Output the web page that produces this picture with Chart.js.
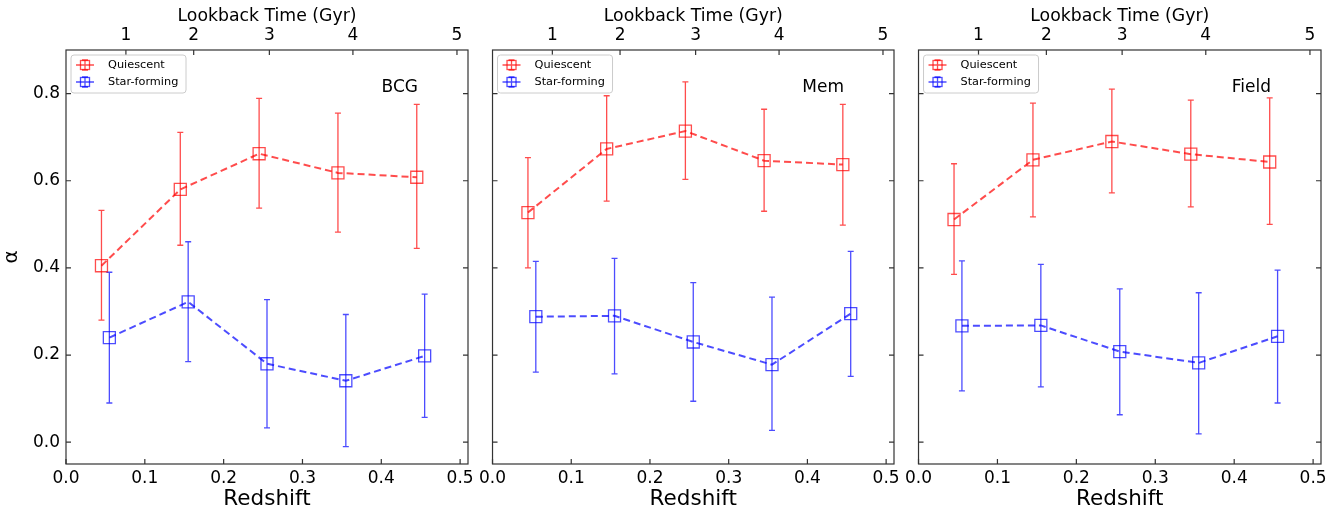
<!DOCTYPE html>
<html>
<head>
<meta charset="utf-8">
<script src="https://cdn.jsdelivr.net/npm/chart.js@4"></script>
<style>
  html, body { margin: 0; padding: 0; background: #fff; }
  #wrap { position: relative; width: 1338px; height: 512px; }
  .panel { position: absolute; top: 0; height: 512px; }
</style>
</head>
<body>
<div id="wrap">
  <div class="panel" style="left:0;width:478px"><canvas id="c0" width="478" height="512"></canvas></div>
  <div class="panel" style="left:475px;width:429px"><canvas id="c1" width="429" height="512"></canvas></div>
  <div class="panel" style="left:901px;width:437px"><canvas id="c2" width="437" height="512"></canvas></div>
</div>
<script>
// --- data ---
const panelNames = ["BCG", "Mem", "Field"];
const zQuiescent = [0.045, 0.145, 0.245, 0.345, 0.445];
const zStarForming = [0.055, 0.155, 0.255, 0.355, 0.455];

const redshiftTicks = [0.0, 0.1, 0.2, 0.3, 0.4, 0.5];
const alphaTicks = [0.0, 0.2, 0.4, 0.6, 0.8];
const lookbackGyr = [1, 2, 3, 4, 5];
const lookbackZ = [0.076, 0.162, 0.258, 0.364, 0.496];

// BCG
const bcgQ = [0.405, 0.580, 0.662, 0.618, 0.608];
const bcgQLo = [0.280, 0.452, 0.537, 0.482, 0.445];
const bcgQHi = [0.532, 0.711, 0.789, 0.755, 0.775];
const bcgSF = [0.240, 0.322, 0.180, 0.141, 0.198];
const bcgSFLo = [0.090, 0.185, 0.033, -0.010, 0.057];
const bcgSFHi = [0.390, 0.460, 0.327, 0.293, 0.340];

// Mem
const memQ = [0.527, 0.673, 0.714, 0.646, 0.637];
const memQLo = [0.400, 0.553, 0.603, 0.530, 0.498];
const memQHi = [0.653, 0.795, 0.827, 0.764, 0.775];
const memSF = [0.288, 0.290, 0.230, 0.178, 0.295];
const memSFLo = [0.161, 0.157, 0.094, 0.027, 0.151];
const memSFHi = [0.415, 0.422, 0.366, 0.333, 0.438];

// Field
const fieldQ = [0.511, 0.648, 0.690, 0.661, 0.643];
const fieldQLo = [0.385, 0.517, 0.572, 0.540, 0.500];
const fieldQHi = [0.639, 0.778, 0.810, 0.785, 0.790];
const fieldSF = [0.267, 0.268, 0.208, 0.182, 0.243];
const fieldSFLo = [0.118, 0.127, 0.063, 0.019, 0.090];
const fieldSFHi = [0.416, 0.408, 0.352, 0.343, 0.395];

const RED = "rgba(255,0,0,0.7)";
const BLUE = "rgba(0,0,255,0.7)";
const FRAME = "#333";

Chart.defaults.font.family = "'DejaVu Sans', sans-serif";
Chart.defaults.color = "#000";

const panels = [
  { q: bcgQ, qLo: bcgQLo, qHi: bcgQHi, sf: bcgSF, sfLo: bcgSFLo, sfHi: bcgSFHi },
  { q: memQ, qLo: memQLo, qHi: memQHi, sf: memSF, sfLo: memSFLo, sfHi: memSFHi },
  { q: fieldQ, qLo: fieldQLo, qHi: fieldQHi, sf: fieldSF, sfLo: fieldSFLo, sfHi: fieldSFHi },
];

const pts = (xs, ys) => xs.map((x, i) => ({ x, y: ys[i] }));

/* -----------------------------
 * Error bars (drawn through the scales)
 * ----------------------------- */
const errorBars = {
  id: "errorBars",
  beforeDatasetsDraw(chart) {
    const { ctx, scales: { x, y } } = chart;
    chart.data.datasets.forEach((ds) => {
      if (!ds.errLo) return;
      ctx.save();
      ctx.strokeStyle = ds.borderColor;
      ctx.lineWidth = 1.3;
      ds.data.forEach((p, j) => {
        const px = x.getPixelForValue(p.x);
        const hi = y.getPixelForValue(ds.errHi[j]);
        const lo = y.getPixelForValue(ds.errLo[j]);
        ctx.beginPath();
        ctx.moveTo(px, hi); ctx.lineTo(px, lo);
        ctx.moveTo(px - 3, hi); ctx.lineTo(px + 3, hi);
        ctx.moveTo(px - 3, lo); ctx.lineTo(px + 3, lo);
        ctx.stroke();
      });
      ctx.restore();
    });
  },
};

/* -----------------------------
 * Frame with inward ticks, legend, panel label
 * ----------------------------- */
const frameAndDecor = {
  id: "frameAndDecor",
  afterDraw(chart, args, opts) {
    const { ctx, chartArea: a, scales } = chart;
    const L = 5;
    ctx.save();
    ctx.strokeStyle = FRAME;
    ctx.lineWidth = 1.2;
    ctx.strokeRect(a.left, a.top, a.right - a.left, a.bottom - a.top);
    ctx.beginPath();
    scales.x.ticks.forEach((t) => {
      const px = scales.x.getPixelForValue(t.value);
      ctx.moveTo(px, a.bottom); ctx.lineTo(px, a.bottom - L);
    });
    scales.xTop.ticks.forEach((t) => {
      const px = scales.xTop.getPixelForValue(t.value);
      ctx.moveTo(px, a.top); ctx.lineTo(px, a.top + L);
    });
    scales.y.ticks.forEach((t) => {
      const py = scales.y.getPixelForValue(t.value);
      ctx.moveTo(a.left, py); ctx.lineTo(a.left + L, py);
      ctx.moveTo(a.right, py); ctx.lineTo(a.right - L, py);
    });
    ctx.stroke();

    // legend
    const bx = a.left + 5, by = a.top + 5, bw = 115, bh = 38;
    ctx.beginPath();
    ctx.roundRect(bx, by, bw, bh, 3);
    ctx.fillStyle = "rgba(255,255,255,0.8)";
    ctx.fill();
    ctx.strokeStyle = "#ccc";
    ctx.lineWidth = 1;
    ctx.stroke();
    chart.data.datasets.forEach((ds, i) => {
      const cy = by + 10 + i * 17;
      const cx = bx + 14;
      ctx.strokeStyle = ds.borderColor;
      ctx.lineWidth = 1.3;
      ctx.beginPath();
      ctx.moveTo(bx + 5, cy); ctx.lineTo(bx + 23, cy);
      ctx.moveTo(cx, cy - 5); ctx.lineTo(cx, cy + 5);
      ctx.moveTo(cx - 3, cy - 5); ctx.lineTo(cx + 3, cy - 5);
      ctx.moveTo(cx - 3, cy + 5); ctx.lineTo(cx + 3, cy + 5);
      ctx.stroke();
      ctx.strokeRect(cx - 4.5, cy - 4.5, 9, 9);
      ctx.fillStyle = "#000";
      ctx.font = "11.3px 'DejaVu Sans'";
      ctx.textBaseline = "middle";
      ctx.textAlign = "left";
      ctx.fillText(ds.label, bx + 37, cy);
    });

    // panel name
    ctx.fillStyle = "#000";
    ctx.font = "17px 'DejaVu Sans'";
    ctx.textAlign = "right";
    ctx.textBaseline = "middle";
    ctx.fillText(opts.name, a.right - 50, a.top + 38);
    ctx.restore();
  },
};

function makePanel(idx) {
  const p = panels[idx];
  const first = idx === 0;
  const rightPad = [10, 10, 17][idx];
  return new Chart(document.getElementById("c" + idx), {
    type: "line",
    data: {
      datasets: [
        {
          label: "Quiescent",
          data: pts(zQuiescent, p.q),
          errLo: p.qLo, errHi: p.qHi,
          borderColor: RED,
          borderWidth: 2,
          borderDash: [7, 4],
          pointStyle: "rect",
          pointRadius: 8.5,
          pointBorderWidth: 1.3,
          pointBackgroundColor: "rgba(0,0,0,0)",
          pointBorderColor: RED,
          fill: false,
          tension: 0,
        },
        {
          label: "Star-forming",
          data: pts(zStarForming, p.sf),
          errLo: p.sfLo, errHi: p.sfHi,
          borderColor: BLUE,
          borderWidth: 2,
          borderDash: [7, 4],
          pointStyle: "rect",
          pointRadius: 8.5,
          pointBorderWidth: 1.3,
          pointBackgroundColor: "rgba(0,0,0,0)",
          pointBorderColor: BLUE,
          fill: false,
          tension: 0,
        },
      ],
    },
    options: {
      responsive: false,
      animation: false,
      layout: { padding: { left: 0, right: rightPad, top: 0, bottom: 0 } },
      plugins: {
        legend: { display: false },
        tooltip: { enabled: false },
        frameAndDecor: { name: panelNames[idx] },
      },
      scales: {
        x: {
          type: "linear", position: "bottom", min: 0, max: 0.51,
          afterBuildTicks: (s) => { s.ticks = redshiftTicks.map((v) => ({ value: v })); },
          ticks: { callback: (v) => v.toFixed(1), font: { size: 17 }, padding: 4, maxRotation: 0, autoSkip: false },
          grid: { display: false, drawTicks: false },
          border: { display: false },
          title: { display: true, text: "Redshift", font: { size: 21.5 }, padding: { top: 0, bottom: 0 } },
          afterFit: (s) => { s.height = 48; },
        },
        xTop: {
          type: "linear", position: "top", min: 0, max: 0.51,
          afterBuildTicks: (s) => { s.ticks = lookbackZ.map((v) => ({ value: v })); },
          ticks: { callback: (v, i) => String(lookbackGyr[i]), font: { size: 17 }, padding: 4, maxRotation: 0, autoSkip: false },
          grid: { display: false, drawTicks: false },
          border: { display: false },
          title: { display: true, text: "Lookback Time (Gyr)", font: { size: 17.3 }, padding: { top: 6, bottom: 0 } },
          afterFit: (s) => { s.height = 50; },
        },
        y: {
          type: "linear", position: "left", min: -0.05, max: 0.9,
          afterBuildTicks: (s) => { s.ticks = alphaTicks.map((v) => ({ value: v })); },
          ticks: { display: first, callback: (v) => v.toFixed(1), font: { size: 17 }, padding: 6 },
          grid: { display: false, drawTicks: false },
          border: { display: false },
          title: { display: first, text: "α", font: { size: 20 }, padding: 0 },
          afterFit: (s) => { s.width = first ? 66 : 12; },
        },
      },
    },
    plugins: [errorBars, frameAndDecor],
  });
}

panelNames.forEach((_, i) => makePanel(i));
</script>
</body>
</html>
